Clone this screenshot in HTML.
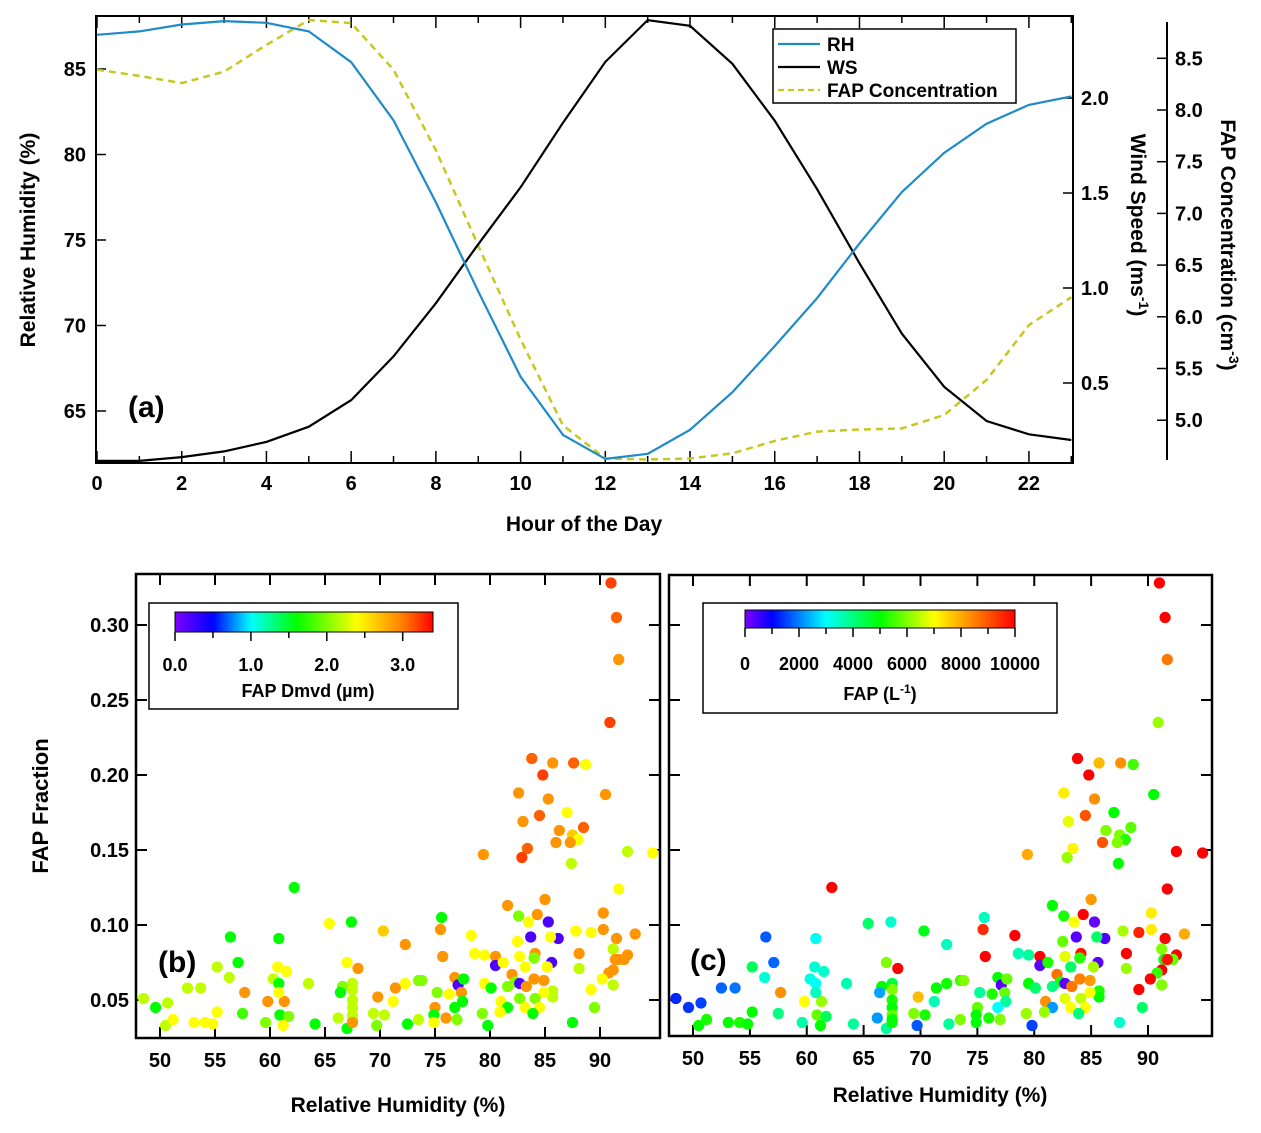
<!DOCTYPE html>
<html><head><meta charset="utf-8"><style>
html,body{margin:0;padding:0;background:#fff}
svg{display:block;font-family:"Liberation Sans",Arial,sans-serif;font-weight:bold}
</style></head><body>
<svg id="fig" width="1261" height="1133" viewBox="0 0 1261 1133" xmlns="http://www.w3.org/2000/svg">
<defs>
<linearGradient id="gradB" x1="0" x2="1" y1="0" y2="0"></linearGradient>
<linearGradient id="gradC" x1="0" x2="1" y1="0" y2="0"></linearGradient>
<clipPath id="clipB"><rect x="137" y="575" width="522" height="462"/></clipPath>
<clipPath id="clipC"><rect x="670" y="576" width="541" height="459"/></clipPath>
</defs>
<g id="panelA"></g>
<g id="panelB"></g>
<g id="panelC"></g>
</svg>
<script>
// ---- Panel (a) data ----
const hours = [0,1,2,3,4,5,6,7,8,9,10,11,12,13,14,15,16,17,18,19,20,21,22,23];
const rhSeries = [87.0,87.2,87.6,87.8,87.7,87.2,85.4,82.0,77.2,72.0,67.0,63.6,62.2,62.5,63.9,66.1,68.8,71.6,74.8,77.8,80.1,81.8,82.9,83.4];
const wsSeries = [0.09,0.09,0.11,0.14,0.19,0.27,0.41,0.64,0.92,1.23,1.53,1.87,2.19,2.41,2.38,2.18,1.88,1.52,1.13,0.76,0.48,0.30,0.23,0.20];
const fapSeries = [8.39,8.33,8.26,8.37,8.63,8.87,8.84,8.39,7.61,6.69,5.78,4.95,4.63,4.62,4.63,4.68,4.80,4.89,4.91,4.92,5.05,5.39,5.92,6.19];
const rhTicks = [65,70,75,80,85];
const wsTicks = [0.5,1.0,1.5,2.0];
const fapTicks = [5.0,5.5,6.0,6.5,7.0,7.5,8.0,8.5];
const hourTicks = [0,2,4,6,8,10,12,14,16,18,20,22];

// ---- Panels (b),(c) data ----
const scatterRH = [48.5,49.6,50.7,50.5,51.2,52.5,53.7,53.1,54.1,54.8,55.2,55.2,56.3,56.4,57.1,57.7,57.5,59.6,59.8,60.3,60.7,60.8,60.8,61.3,61.5,60.8,60.9,61.7,61.2,62.2,63.5,64.1,65.4,67.0,67.4,68.0,66.6,66.4,67.5,67.5,67.5,67.5,67.5,67.5,67.0,67.5,66.2,70.3,69.8,71.2,71.4,72.3,72.3,73.5,69.4,69.7,70.4,72.5,73.5,
83.8,85.7,87.6,88.7,84.8,82.6,85.3,90.5,84.5,83.0,87.0,86.3,88.5,87.5,88.0,86.0,87.3,83.4,82.9,79.4,87.4,92.5,94.8,91.7,85.0,81.6,82.6,84.3,75.6,75.5,83.5,85.3,90.3,78.3,83.7,86.2,85.5,82.5,87.8,89.2,90.3,91.5,93.2,75.7,78.6,79.5,80.5,82.7,84.1,84.0,85.6,80.5,81.2,83.2,85.2,88.1,88.1,91.2,92.5,91.4,92.2,91.7,91.2,90.8,90.2,91.2,89.2,76.8,77.1,77.6,73.8,75.2,76.3,77.4,77.5,76.8,75.0,74.9,76.0,77.0,74.9,79.5,80.1,82.0,82.3,82.7,84.0,84.9,81.6,83.3,85.7,85.7,84.9,81.0,81.6,80.9,79.3,82.7,83.2,84.1,84.5,83.9,79.8,87.5,89.5,
91.0,91.5,91.7,90.9];
const scatterFrac = [0.051,0.045,0.048,0.033,0.037,0.058,0.058,0.035,0.035,0.034,0.042,0.072,0.065,0.092,0.075,0.055,0.041,0.035,0.049,0.064,0.072,0.061,0.091,0.049,0.069,0.055,0.040,0.039,0.033,0.125,0.061,0.034,0.101,0.075,0.102,0.071,0.059,0.055,0.061,0.057,0.050,0.045,0.040,0.037,0.031,0.035,0.038,0.096,0.052,0.049,0.058,0.087,0.061,0.063,0.041,0.033,0.040,0.034,0.037,
0.211,0.208,0.208,0.207,0.200,0.188,0.184,0.187,0.173,0.169,0.175,0.163,0.165,0.160,0.157,0.155,0.155,0.151,0.145,0.147,0.141,0.149,0.148,0.124,0.117,0.113,0.106,0.107,0.105,0.097,0.102,0.102,0.108,0.093,0.092,0.091,0.092,0.089,0.096,0.095,0.097,0.091,0.094,0.079,0.081,0.080,0.079,0.079,0.081,0.078,0.075,0.073,0.075,0.072,0.072,0.081,0.071,0.084,0.080,0.077,0.077,0.077,0.070,0.068,0.064,0.060,0.057,0.065,0.060,0.064,0.063,0.055,0.054,0.055,0.049,0.045,0.045,0.040,0.038,0.037,0.035,0.061,0.058,0.067,0.062,0.061,0.064,0.063,0.059,0.059,0.056,0.052,0.055,0.049,0.045,0.042,0.041,0.051,0.045,0.051,0.045,0.041,0.033,0.035,0.045,
0.328,0.305,0.277,0.235];
const scatterDmvd = [2.2,1.6,2.2,2.2,2.4,2.2,2.2,2.4,2.4,2.4,2.4,2.2,2.2,1.6,1.6,2.9,1.8,2.0,2.9,2.2,2.4,1.6,1.6,2.9,2.4,2.4,1.6,2.0,2.4,1.6,2.2,1.6,2.4,2.4,1.6,2.9,2.0,1.6,2.2,2.2,2.2,2.2,2.2,2.2,1.6,2.9,2.2,2.65,2.9,2.4,2.9,2.9,2.4,2.0,2.2,2.0,2.2,1.6,2.2,
3.1,2.9,3.1,2.4,3.2,2.9,2.9,2.9,3.1,2.9,2.4,2.9,3.1,2.65,2.4,2.9,2.9,3.1,3.2,2.9,2.2,2.2,2.4,2.4,2.9,2.9,2.0,2.9,1.6,2.9,2.4,0.2,2.9,2.4,0.2,0.2,2.4,2.4,2.4,2.4,2.9,2.9,2.9,2.9,2.4,2.4,2.9,2.4,2.9,2.0,0.2,0.2,2.4,2.4,2.4,2.9,2.2,2.2,2.9,2.9,2.9,2.9,2.9,2.9,2.4,2.2,2.4,2.9,0.2,1.6,2.0,2.0,2.4,2.9,1.6,1.6,2.9,1.6,2.9,2.0,2.4,2.4,1.6,2.9,2.0,0.2,2.9,2.9,2.0,2.9,2.2,2.2,2.4,2.4,1.6,2.4,2.0,2.0,2.4,2.0,2.4,1.6,1.6,1.6,2.0,
3.2,3.1,2.9,3.2];
const scatterFap = [1300,1400,1500,5000,5200,1800,1900,5000,5200,5000,5000,4300,3300,1700,1800,8300,4000,3700,7000,3200,3300,3000,3100,6200,3400,3500,5800,4300,5000,10000,3600,3800,4200,6000,3400,10000,5000,2300,4500,6000,5200,5000,5800,5000,3800,5000,2200,4800,7800,3600,5000,3500,5100,5500,6000,1700,5200,3800,6000,
10000,7800,8300,5500,10000,7200,8300,5000,9000,6800,5000,6000,5700,6000,5300,9000,6000,7100,6200,8000,5000,10000,10000,10000,8200,5000,5200,10000,3500,9500,7000,200,7200,10000,300,400,4200,5800,6300,9600,7200,10000,8000,10000,3600,3800,10000,6800,9800,5300,300,300,5200,4200,6300,10000,6200,6000,10000,5200,5800,9800,10000,5400,10000,6000,10000,5000,300,5800,6000,3800,5200,5800,3800,3000,5800,5000,5200,6000,5000,5000,4200,8700,5200,300,8500,8200,4000,8600,5200,5000,7000,8300,2200,6200,6200,6800,7000,6500,7000,4000,1500,3400,4200,
10000,10000,8600,6200];
const fracTicks = [0.05,0.10,0.15,0.20,0.25,0.30];
const rhAxisTicks = [50,55,60,65,70,75,80,85,90];
const dmvdTicks = [0.0,1.0,2.0,3.0];
const fapColorTicks = [0,2000,4000,6000,8000,10000];

const NS = "http://www.w3.org/2000/svg";
function mk(parent, tag, attrs, text){
  const e = document.createElementNS(NS, tag);
  for (const k in attrs) e.setAttribute(k, attrs[k]);
  if (text !== undefined) e.textContent = text;
  parent.appendChild(e);
  return e;
}
const hueStopsB = [[0,270],[0.5,240],[1.0,180],[1.6,120],[2.4,60],[3.0,30],[3.4,0]];
const hueStopsC = [[0,270],[1000,240],[3000,180],[5000,120],[7000,60],[8500,30],[10000,0]];
function hueOf(v, stops){
  if (v <= stops[0][0]) return stops[0][1];
  for (let i=1;i<stops.length;i++){
    if (v <= stops[i][0]){
      const t=(v-stops[i-1][0])/(stops[i][0]-stops[i-1][0]);
      return stops[i-1][1]+t*(stops[i][1]-stops[i-1][1]);
    }
  }
  return stops[stops.length-1][1];
}
function colorOf(v, stops){ return "hsl("+hueOf(v,stops).toFixed(1)+",100%,50%)"; }

function fillGrad(id, stops, vmax){
  const g = document.getElementById(id);
  for (let i=0;i<=40;i++){
    const v = vmax*i/40;
    mk(g,"stop",{offset:(i/40*100)+"%","stop-color":colorOf(v,stops)});
  }
}
fillGrad("gradB", hueStopsB, 3.4);
fillGrad("gradC", hueStopsC, 10000);

// ================= Panel A =================
const A = document.getElementById("panelA");
const xA = h => 97 + h*42.36;
const yRH = v => 69 + (85 - v)*17.1;
const yWS = v => 98 + (2.0 - v)*190;
const yFAP = v => 110 + (8.0 - v)*103.4;

let e;
e = mk(A,"rect",{x:96,y:16,width:977,height:447,fill:"none",stroke:"#000","stroke-width":2});
 

for (let h=0; h<=23; h++){
  const len = (h%2===0)?12:7;
  mk(A,"line",{x1:xA(h),x2:xA(h),y1:463,y2:463-len,stroke:"#000","stroke-width":1.5});
  mk(A,"line",{x1:xA(h),x2:xA(h),y1:16,y2:16+len,stroke:"#000","stroke-width":1.5});
}
hourTicks.forEach(h=>{
  e = mk(A,"text",{x:xA(h),y:490,"text-anchor":"middle","font-size":20},String(h));
   
});
e = mk(A,"text",{x:584,y:531,"text-anchor":"middle","font-size":21},"Hour of the Day");
 

rhTicks.forEach(v=>{
  mk(A,"line",{x1:96,x2:106,y1:yRH(v),y2:yRH(v),stroke:"#000","stroke-width":1.5});
  e = mk(A,"text",{x:86,y:yRH(v)+7,"text-anchor":"end","font-size":20},String(v));
   
});
e = mk(A,"text",{x:0,y:0,"text-anchor":"middle","font-size":21,transform:"translate(35,240) rotate(-90)"},"Relative Humidity (%)");
 

wsTicks.forEach(v=>{
  mk(A,"line",{x1:1073,x2:1063,y1:yWS(v),y2:yWS(v),stroke:"#000","stroke-width":1.5});
  e = mk(A,"text",{x:1081,y:yWS(v)+7,"font-size":20},v.toFixed(1));
   
});
e = mk(A,"text",{x:0,y:0,"text-anchor":"middle","font-size":21,transform:"translate(1131,225) rotate(90)"});
 
e.innerHTML = 'Wind Speed (ms<tspan dy="-8" font-size="14">-1</tspan><tspan dy="8">)</tspan>';

mk(A,"line",{x1:1167,x2:1167,y1:22,y2:460,stroke:"#000","stroke-width":2});
fapTicks.forEach(v=>{
  mk(A,"line",{x1:1167,x2:1157,y1:yFAP(v),y2:yFAP(v),stroke:"#000","stroke-width":1.5});
  e = mk(A,"text",{x:1175,y:yFAP(v)+7,"font-size":20},v.toFixed(1));
   
});
e = mk(A,"text",{x:0,y:0,"text-anchor":"middle","font-size":21,transform:"translate(1221,245) rotate(90)"});
 
e.innerHTML = 'FAP Concentration (cm<tspan dy="-8" font-size="14">-3</tspan><tspan dy="8">)</tspan>';

function linePath(ys, yf){ return hours.map((h,i)=>(i?"L":"M")+xA(h).toFixed(1)+","+yf(ys[i]).toFixed(1)).join(" "); }
e = mk(A,"path",{d:linePath(fapSeries,yFAP),fill:"none",stroke:"#c6c820","stroke-width":2.5,"stroke-dasharray":"7,5"});
 
e = mk(A,"path",{d:linePath(wsSeries,yWS),fill:"none",stroke:"#000","stroke-width":2.2});
 
e = mk(A,"path",{d:linePath(rhSeries,yRH),fill:"none",stroke:"#1e8ac8","stroke-width":2.2});
 

e = mk(A,"text",{x:128,y:417,"font-size":30},"(a)");
 

const L = mk(A,"g",{});
 
mk(L,"rect",{x:773,y:29,width:243,height:74,fill:"#fff",stroke:"#000","stroke-width":1.5});
const legItems = [["RH","#1e8ac8",null],["WS","#000",null],["FAP Concentration","#c6c820","6,4"]];
legItems.forEach((it,i)=>{
  const y = 44 + i*23;
  const g = mk(L,"g",{});
   
  const at = {x1:778,x2:820,y1:y,y2:y,stroke:it[1],"stroke-width":2.2};
  if (it[2]) at["stroke-dasharray"]=it[2];
  mk(g,"line",at);
  mk(g,"text",{x:827,y:y+7,"font-size":19},it[0]);
});

// ================= Panels B & C =================
const yF = f => 625 + (0.30 - f)*1500;
const xB = r => 160 + (r - 50)*11;
const xC = r => 693 + (r - 50)*11.375;

function scatterPanel(P, frame, xf, clipId, valArr, stops, showY, label, lblX){
  e = mk(P,"rect",{x:frame[0],y:frame[1],width:frame[2]-frame[0],height:frame[3]-frame[1],fill:"none",stroke:"#000","stroke-width":2.5});
   
  fracTicks.forEach(f=>{
    mk(P,"line",{x1:frame[0],x2:frame[0]+11,y1:yF(f),y2:yF(f),stroke:"#000","stroke-width":2});
    mk(P,"line",{x1:frame[2],x2:frame[2]-11,y1:yF(f),y2:yF(f),stroke:"#000","stroke-width":2});
    if (showY){
      e = mk(P,"text",{x:frame[0]-7,y:yF(f)+7,"text-anchor":"end","font-size":20},f.toFixed(2));
       
    }
  });
  rhAxisTicks.forEach(r=>{
    mk(P,"line",{x1:xf(r),x2:xf(r),y1:frame[3],y2:frame[3]-11,stroke:"#000","stroke-width":2});
    mk(P,"line",{x1:xf(r),x2:xf(r),y1:frame[1],y2:frame[1]+11,stroke:"#000","stroke-width":2});
    e = mk(P,"text",{x:xf(r),y:frame[3]+29,"text-anchor":"middle","font-size":20},String(r));
     
  });
  const G = mk(P,"g",{"clip-path":"url(#"+clipId+")"});
   
  scatterRH.forEach((r,i)=>{
    const c = mk(G,"circle",{cx:xf(r).toFixed(1),cy:yF(scatterFrac[i]).toFixed(1),r:5.6,fill:colorOf(valArr[i],stops)});
    
    
  });
  e = mk(P,"text",{x:lblX,y:frame[3]-66,"font-size":30},label);
   
}

const B = document.getElementById("panelB");
scatterPanel(B,[136,574,660,1038],xB,"clipB",scatterDmvd,hueStopsB,true,"(b)",158);
e = mk(B,"text",{x:398,y:1112,"text-anchor":"middle","font-size":21},"Relative Humidity (%)");
 
e = mk(B,"text",{x:0,y:0,"text-anchor":"middle","font-size":22,transform:"translate(48,806) rotate(-90)"},"FAP Fraction");
 
const CB = mk(B,"g",{});
 
mk(CB,"rect",{x:149,y:603,width:309,height:106,fill:"#fff",stroke:"#000","stroke-width":1.5});
mk(CB,"rect",{x:175,y:612,width:258,height:20,fill:"url(#gradB)",stroke:"#000","stroke-width":1});
const xCbB = v => 175 + v*75.9;
[0,0.5,1,1.5,2,2.5,3].forEach(v=>mk(CB,"line",{x1:xCbB(v),x2:xCbB(v),y1:632,y2:(v%1===0)?641:638,stroke:"#000","stroke-width":1.5}));
dmvdTicks.forEach(v=>{
  e = mk(CB,"text",{x:xCbB(v),y:671,"text-anchor":"middle","font-size":18},v.toFixed(1));
   
});
mk(CB,"text",{x:308,y:697,"text-anchor":"middle","font-size":18},"FAP Dmvd (µm)");

const C = document.getElementById("panelC");
scatterPanel(C,[669,575,1212,1036],xC,"clipC",scatterFap,hueStopsC,false,"(c)",690);
e = mk(C,"text",{x:940,y:1102,"text-anchor":"middle","font-size":21},"Relative Humidity (%)");
 
const CC = mk(C,"g",{});
 
mk(CC,"rect",{x:703,y:603,width:354,height:110,fill:"#fff",stroke:"#000","stroke-width":1.5});
mk(CC,"rect",{x:745,y:610,width:270,height:18,fill:"url(#gradC)",stroke:"#000","stroke-width":1});
const xCbC = v => 745 + v*0.027;
[0,1000,2000,3000,4000,5000,6000,7000,8000,9000,10000].forEach(v=>mk(CC,"line",{x1:xCbC(v),x2:xCbC(v),y1:628,y2:(v%2000===0)?637:634,stroke:"#000","stroke-width":1.5}));
fapColorTicks.forEach(v=>{
  e = mk(CC,"text",{x:xCbC(v),y:670,"text-anchor":"middle","font-size":18},String(v));
   
});
e = mk(CC,"text",{x:880,y:700,"text-anchor":"middle","font-size":18});
e.innerHTML = 'FAP (L<tspan dy="-7" font-size="12">-1</tspan><tspan dy="7">)</tspan>';
</script>
</body></html>
